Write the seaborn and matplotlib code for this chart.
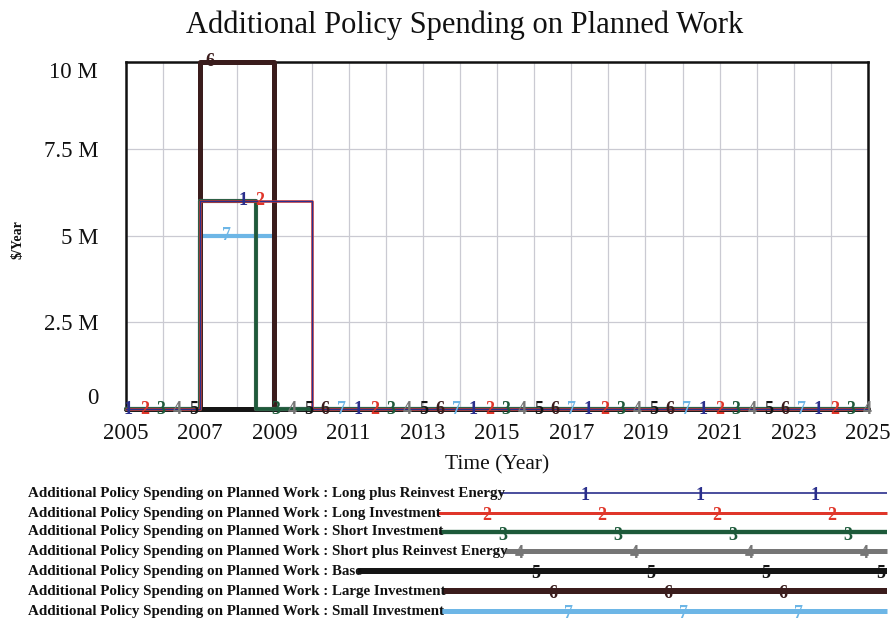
import numpy as np
import pandas as pd
import seaborn as sns
import matplotlib.pyplot as plt

# step data ($/Year), values hold until the next time point
time_pts = [2005, 2007, 2008.5, 2009, 2010, 2025]
long_plus_reinvest = [0, 6e6, 6e6, 6e6, 0, 0]
long_investment = [0, 6e6, 6e6, 6e6, 0, 0]
short_investment = [0, 6e6, 0, 0, 0, 0]
short_plus_reinvest = [0, 6e6, 0, 0, 0, 0]
base = [0, 0, 0, 0, 0, 0]
large_investment = [0, 10e6, 10e6, 0, 0, 0]
small_investment = [0, 5e6, 5e6, 0, 0, 0]

series_names = ["Long plus Reinvest Energy", "Long Investment", "Short Investment",
                "Short plus Reinvest Energy", "Base", "Large Investment", "Small Investment"]
series_values = [long_plus_reinvest, long_investment, short_investment,
                 short_plus_reinvest, base, large_investment, small_investment]

y_ticks = [0, 2.5e6, 5e6, 7.5e6, 10e6]
y_tick_labels = ["0", "2.5 M", "5 M", "7.5 M", "10 M"]
x_ticks = list(range(2005, 2026, 2))

colors = ["#2a2f8c", "#e0362a", "#1d5a3a", "#767676", "#151515", "#3a1c1c", "#6db6e6"]
widths = [1.0, 1.8, 2.6, 3.0, 3.6, 3.6, 3.0]

rows = []
for name, vals in zip(series_names, series_values):
    for t, v in zip(time_pts, vals):
        rows.append({"time": t, "value": v, "series": name})
df = pd.DataFrame(rows)

sns.set_theme(style="white")
plt.rcParams['font.family'] = ['Liberation Serif', 'DejaVu Serif']

fig = plt.figure(figsize=(8.95, 6.24), dpi=100)
ax = fig.add_axes([126 / 895, 1 - 409 / 624, (868 - 126) / 895, (409 - 62) / 624])

# Vensim draws the last series first, so series 1 ends up on top
for i in reversed(range(len(series_names))):
    sub = df[df["series"] == series_names[i]]
    sns.lineplot(data=sub, x="time", y="value", ax=ax, color=colors[i], linewidth=widths[i],
                 drawstyle="steps-post", estimator=None, sort=False, legend=False,
                 zorder=10 + (7 - i), clip_on=False)

# series number markers along each line
mark_step = 0.443
for i, vals in enumerate(series_values):
    xm = 2005.05 + i * mark_step
    while xm < 2025:
        idx = np.searchsorted(time_pts, xm, side="right") - 1
        ax.text(xm, vals[idx], str(i + 1), color=colors[i], fontsize=13, fontweight="bold",
                ha="center", va="center", zorder=30, clip_on=False)
        xm += 7 * mark_step

ax.set_xlim(2005, 2025)
ax.set_ylim(0, 10e6)
ax.set_xticks(x_ticks)
ax.set_xticks(range(2005, 2026), minor=True)
ax.set_yticks(y_ticks)
ax.set_yticklabels(y_tick_labels)
ax.tick_params(axis="both", which="both", length=0, labelsize=16.5, colors="#111111")
ax.tick_params(axis="y", pad=20)
ax.tick_params(axis="x", pad=10)
ylabs = ax.get_yticklabels()
ylabs[0].set_va("bottom")
ylabs[-1].set_va("top")
ax.grid(True, which="both", axis="x", color="#cacad2", linewidth=0.9)
ax.grid(True, which="major", axis="y", color="#cacad2", linewidth=0.9)
for sp in ax.spines.values():
    sp.set_color("#111111")
    sp.set_linewidth(1.8)
ax.set_xlabel("Time (Year)", fontsize=15.5, labelpad=8, color="#111111")
ax.set_ylabel("")
fig.text(18 / 895, 1 - 240 / 624, "$/Year", rotation=90, fontsize=10, fontweight="bold",
         ha="center", va="center", color="#111111")
fig.text(465 / 895, 1 - 25 / 624, "Additional Policy Spending on Planned Work", fontsize=22,
         ha="center", va="center", color="#111111")

# legend block under the chart, drawn in pixel coordinates
lax = fig.add_axes([0, 0, 1, 1], zorder=-1)
lax.set_xlim(0, 895)
lax.set_ylim(624, 0)
lax.axis("off")
row_y = [493, 513, 532, 551, 571, 591, 611]
texts = []
for i, name in enumerate(series_names):
    t = lax.text(28, row_y[i], "Additional Policy Spending on Planned Work : " + name,
                 fontsize=10.8, fontweight="bold", ha="left", va="center", color="#111111")
    texts.append(t)
fig.canvas.draw()
inv = lax.transData.inverted()
for i, t in enumerate(texts):
    bb = t.get_window_extent()
    x_end = inv.transform((bb.x1, bb.y0))[0] - 4
    lax.plot([x_end, 887], [row_y[i], row_y[i]], color=colors[i], linewidth=widths[i] * 1.2,
             solid_capstyle="butt")
    xm = 470 + i * 16.5
    while xm < 887:
        if xm > x_end + 8:
            lax.text(xm, row_y[i] + 3, str(i + 1), color=colors[i], fontsize=13,
                     fontweight="bold", ha="center", va="center")
        xm += 115

fig.savefig("out.png", dpi=100)
